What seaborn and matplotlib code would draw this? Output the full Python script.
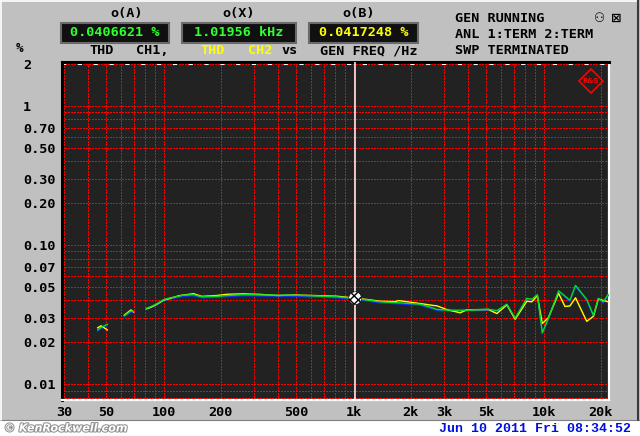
import numpy as np
import pandas as pd
import matplotlib
matplotlib.use("Agg")
import matplotlib.pyplot as plt
import matplotlib.transforms as mtransforms
import matplotlib.patheffects as pe
from matplotlib.ticker import FixedLocator, LogLocator, NullFormatter
from matplotlib.patches import Rectangle
from matplotlib.lines import Line2D
import seaborn as sns

nan = np.nan

# sweep data (THD in %, vs generator frequency in Hz)
freq_hz = [44.9, 46.9, 50.7, 55, 62.0, 67.3, 69.6, 75, 81, 86, 92, 100, 108.5, 120, 125,
           144, 159, 191, 216, 263, 323, 400, 483, 615, 817, 1000, 1200, 1380, 1655, 1724,
           2242, 2633, 2740, 3095, 3640, 3946, 5126, 5677, 6409, 7086, 8165, 8673, 9277,
           9847, 10590, 12000, 12960, 13760, 14730, 16870, 18310, 19420, 20630, 21900]
thd_ch1 = [0.0245, 0.0256, 0.0270, nan, 0.0310, 0.0336, 0.0333, nan, 0.0350, 0.0362, 0.0378,
           0.0405, 0.0418, 0.0428, 0.0436, 0.0440, 0.0425, 0.0428, 0.0434, 0.0440, 0.0438,
           0.0437, 0.0436, 0.0432, 0.0425, 0.0413, 0.0402, 0.0391, 0.0386, 0.0385, 0.0376,
           0.0352, 0.0345, 0.0341, 0.0340, 0.0341, 0.0346, 0.0338, 0.0376, 0.0299, 0.0414,
           0.0408, 0.0440, 0.0234, 0.0297, 0.0469, 0.0430, 0.0401, 0.0513, 0.0407, 0.0312,
           0.0414, 0.0391, 0.0442]
thd_ch2 = [0.0254, 0.0263, 0.0245, nan, 0.0313, 0.0342, 0.0330, nan, 0.0348, 0.0358, 0.0375,
           0.0402, 0.0414, 0.0432, 0.0436, 0.0447, 0.0428, 0.0434, 0.0443, 0.0446, 0.0442,
           0.0434, 0.0438, 0.0434, 0.0429, 0.0417, 0.0405, 0.0395, 0.0392, 0.0399, 0.0380,
           0.0368, 0.0366, 0.0344, 0.0326, 0.0343, 0.0344, 0.0322, 0.0372, 0.0293, 0.0395,
           0.0391, 0.0433, 0.0273, 0.0300, 0.0450, 0.0362, 0.0365, 0.0418, 0.0283, 0.0308,
           0.0410, 0.0400, 0.0391]

x_ticks = [30, 50, 100, 200, 500, 1000, 2000, 3000, 5000, 10000, 20000]
x_labels = ["30", "50", "100", "200", "500", "1k", "2k", "3k", "5k", "10k", "20k"]
y_ticks = [2, 1, 0.7, 0.5, 0.3, 0.2, 0.1, 0.07, 0.05, 0.03, 0.02, 0.01]
y_labels = ["2", "1", "0.70", "0.50", "0.30", "0.20", "0.10", "0.07", "0.05", "0.03", "0.02", "0.01"]

cursor_freq = 1019.56
cursor_thd = 0.0415
readout_a = "0.0406621 %"
readout_x = "1.01956 kHz"
readout_b = "0.0417248 %"
status_lines = ["GEN RUNNING", "ANL 1:TERM 2:TERM", "SWP TERMINATED"]
timestamp = "Jun 10 2011 Fri 08:34:52"

W, H = 640, 436


def fx(px):
    return px / W


def fy(py):
    return 1 - py / H


sns.set_style("dark")
plt.rcParams['font.family'] = ['DejaVu Sans Mono', 'DejaVu Sans']
plt.rcParams['font.weight'] = 'bold'

df = pd.DataFrame({
    'freq': freq_hz * 2,
    'thd': thd_ch1 + thd_ch2,
    'ch': ['CH1'] * len(freq_hz) + ['CH2'] * len(freq_hz),
})
df['seg'] = df['thd'].isna().astype(int).groupby(df['ch']).cumsum()
df = df.dropna()

fig = plt.figure(figsize=(6.4, 4.36), dpi=100, facecolor='#c0c0c0')
ax = fig.add_axes([fx(62), fy(400), (609 - 62) / W, (400 - 62) / H])
ax.set_facecolor('#222222')
ax.set_xscale('log')
ax.set_yscale('log')

# traces: blue shadow under ch1, then yellow ch2, then green ch1
shadow = mtransforms.offset_copy(ax.transData, fig=fig, x=0, y=-1.1, units='dots')
d1 = df[df['ch'] == 'CH1']
d2 = df[df['ch'] == 'CH2']
sns.lineplot(data=d1, x='freq', y='thd', units='seg', estimator=None, sort=False,
             color='#1030ff', lw=0.9, ax=ax, transform=shadow, legend=False, zorder=3)
sns.lineplot(data=d2, x='freq', y='thd', units='seg', estimator=None, sort=False,
             color='#ffff00', lw=1.0, ax=ax, legend=False, zorder=4)
sns.lineplot(data=d1, x='freq', y='thd', units='seg', estimator=None, sort=False,
             color='#00e020', lw=1.0, ax=ax, legend=False, zorder=5)
ax.set_xlim(29.2, 22100)
ax.set_ylim(0.0077, 2.07)

# ticks + red dotted grid
ax.xaxis.set_major_locator(FixedLocator(x_ticks))
ax.set_xticklabels(x_labels)
ax.yaxis.set_major_locator(FixedLocator(y_ticks))
ax.set_yticklabels(y_labels)
for axis in (ax.xaxis, ax.yaxis):
    axis.set_minor_locator(LogLocator(base=10, subs=np.arange(1, 10), numticks=50))
    axis.set_minor_formatter(NullFormatter())
ax.grid(which='both', color='#ff0000', linestyle=(0, (1, 1.4)), linewidth=1.0,
        antialiased=False, zorder=1)
ax.set_axisbelow(True)
ax.tick_params(which='both', length=0, labelsize=9.7, labelcolor='black')
ax.tick_params(axis='x', pad=4)
ax.tick_params(axis='y', pad=28)
for t in ax.get_yticklabels():
    t.set_horizontalalignment('left')
ax.set_xlabel('')
ax.set_ylabel('')

for side, col, lw in (('left', '#000000', 2.2), ('top', '#000000', 2.2),
                      ('right', '#ffffff', 1.6), ('bottom', '#ffffff', 1.6)):
    ax.spines[side].set_visible(True)
    ax.spines[side].set_color(col)
    ax.spines[side].set_linewidth(lw)

# white dashes along the top (2 %) line
ax.axhline(2, color='white', lw=1.5, dashes=(2.0, 5.6), zorder=2)

# cursor
ax.axvline(cursor_freq, color='white', lw=1.1, zorder=6)
ax.scatter([cursor_freq], [cursor_thd], s=85, marker='o', facecolor='white',
           edgecolor='black', hatch='xxxx', linewidth=0.4, zorder=7)

# R&S logo
fig.add_artist(Line2D([fx(591)], [fy(81)], transform=fig.transFigure, marker='D',
                      markersize=12, mfc='none', mec='#ff0000', mew=1.2))
fig.text(fx(591), fy(81), 'R&S', color='#ff0000', fontsize=5, ha='center', va='center',
         family='DejaVu Sans')

# header readouts
for cx, lab in ((127, 'o(A)'), (239, 'o(X)'), (359, 'o(B)')):
    fig.text(fx(cx), fy(13), lab, ha='center', va='center', fontsize=9.7, color='black')
for (x0, x1), txt, col in (((61, 169), readout_a, '#30ff30'),
                           ((182, 296), readout_x, '#30ff30'),
                           ((309, 418), readout_b, '#ffff00')):
    fig.patches.append(Rectangle((fx(x0), fy(43)), (x1 - x0) / W, 20 / H,
                                 transform=fig.transFigure, facecolor='#101010',
                                 edgecolor='#6a6a6a', lw=1.5))
    fig.text(fx((x0 + x1) / 2), fy(33), txt, ha='center', va='center', fontsize=9.7, color=col)

for x0, txt, col in ((89, 'THD', 'black'), (136, 'CH1,', 'black'), (200, 'THD', '#ffff00'),
                     (248, 'CH2', '#ffff00'), (281, 'vs', 'black'), (320, 'GEN FREQ /Hz', 'black')):
    fig.text(fx(x0), fy(51), txt, ha='left', va='center', fontsize=9.7, color=col)

for i, txt in enumerate(status_lines):
    fig.text(fx(455), fy(19 + 16 * i), txt, ha='left', va='center', fontsize=9.7, color='black')
fig.text(fx(600), fy(18), '\u2687', ha='center', va='center', fontsize=9, color='black',
         family='DejaVu Sans')
fig.text(fx(616), fy(18), '\u22a0', ha='center', va='center', fontsize=9, color='black',
         family='DejaVu Sans')
fig.text(fx(19), fy(49), '%', ha='center', va='center', fontsize=9, color='black')

# window bevel, bottom white strip, timestamp and watermark
fig.patches.append(Rectangle((0, 0), 1, 16 / H, transform=fig.transFigure,
                             facecolor='white', edgecolor='none'))
fig.add_artist(Line2D([0, 1], [fy(420), fy(420)], transform=fig.transFigure, color='#808080', lw=0.8))
fig.add_artist(Line2D([0, fx(637)], [fy(1.2), fy(1.2)], transform=fig.transFigure, color='white', lw=1.2))
fig.add_artist(Line2D([fx(1.2), fx(1.2)], [fy(420), fy(1)], transform=fig.transFigure, color='white', lw=1.2))
fig.add_artist(Line2D([fx(637.5), fx(637.5)], [fy(420), fy(0)], transform=fig.transFigure, color='#3a3a3a', lw=1.5))

fig.text(fx(631), fy(429), timestamp, ha='right', va='center', fontsize=9.5, color='#0010e0',
         family='Liberation Mono', fontweight='bold')
fig.text(fx(4), fy(428.5), '\u00a9 KenRockwell.com', ha='left', va='center', fontsize=8,
         color='white', family='DejaVu Sans', fontstyle='italic', fontweight='bold',
         path_effects=[pe.withStroke(linewidth=1.5, foreground='#909090')])

fig.savefig('out.png', dpi=100, facecolor=fig.get_facecolor())
